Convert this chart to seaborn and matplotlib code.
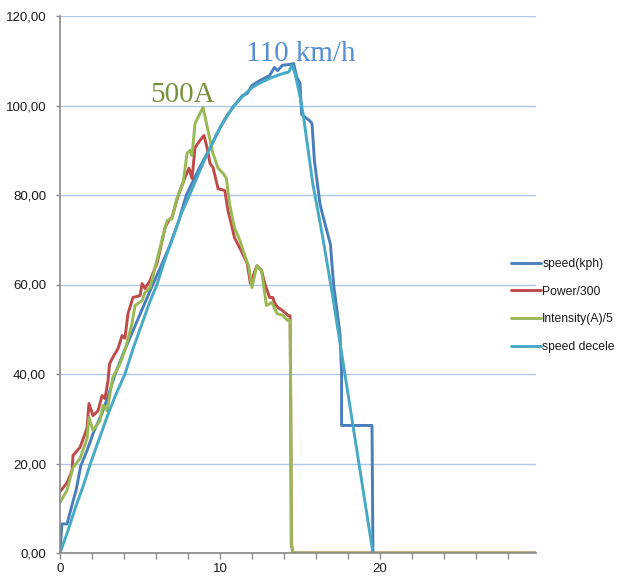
import matplotlib
matplotlib.use("Agg")
import matplotlib.pyplot as plt
import seaborn as sns
import pandas as pd
from matplotlib.ticker import FuncFormatter, MultipleLocator

sns.set_theme(style="white")
plt.rcParams['font.family'] = ['Liberation Sans', 'DejaVu Sans']

# ---- data ----
speed_x = [0.0, 0.12, 0.44, 0.7, 1.0, 1.3, 1.7, 2.1, 2.6, 3.0, 3.45, 4.0, 4.6, 5.2, 5.8,
           6.3, 6.9, 7.4, 7.9, 8.5, 9.0, 9.4, 10.0, 10.5, 10.8, 11.4, 11.7, 12.0, 12.5,
           13.1, 13.4, 13.6, 13.9, 14.4, 14.6, 14.8, 15.0, 15.1, 15.6, 15.75, 15.9,
           16.25, 16.4, 16.9, 17.1, 17.5, 17.6, 17.6, 19.5, 19.56]
speed_y = [0.0, 6.5, 6.5, 10.0, 14.0, 19.5, 23.0, 27.0, 31.0, 35.0, 40.0, 45.0, 50.0, 55.0, 60.0,
           64.0, 69.0, 74.0, 80.0, 84.5, 88.0, 90.6, 95.0, 98.0, 99.6, 102.2, 102.7, 104.5, 105.6,
           106.7, 108.5, 107.8, 109.0, 109.2, 109.4, 106.3, 105.0, 98.0, 96.6, 96.0, 87.7,
           78.0, 75.8, 69.0, 60.0, 49.0, 40.0, 28.5, 28.5, 0.0]

power_x = [0.0, 0.44, 0.75, 0.81, 1.25, 1.56, 1.69, 1.81, 2.06, 2.38, 2.63, 2.81, 3.0, 3.1,
           3.3, 3.63, 3.88, 4.06, 4.25, 4.56, 5.0, 5.13, 5.31, 5.63, 6.06, 6.25, 6.56, 6.8,
           7.0, 7.3, 7.5, 7.94, 8.06, 8.25, 8.44, 8.75, 9.0, 9.19, 9.38, 9.56, 9.88, 10.3,
           10.5, 10.7, 10.9, 11.4, 11.7, 11.9, 12.3, 12.6, 12.8, 13.1, 13.3, 13.4, 13.6,
           13.9, 14.25, 14.38, 14.42, 14.46, 14.56, 29.75]
power_y = [13.7, 15.7, 18.4, 21.8, 23.6, 26.6, 28.0, 33.4, 30.7, 31.8, 35.2, 34.5, 38.5, 42.3,
           43.7, 45.7, 48.6, 48.0, 53.5, 57.1, 57.5, 60.2, 59.1, 60.9, 64.7, 67.6, 72.7, 74.3,
           75.0, 78.8, 81.0, 85.0, 86.0, 83.7, 90.6, 92.2, 93.3, 90.6, 87.0, 86.2, 81.4, 81.0,
           76.5, 73.6, 70.5, 67.0, 64.7, 60.2, 64.2, 63.1, 60.2, 57.1, 57.1, 56.0, 54.9,
           54.2, 53.1, 53.0, 34.0, 2.0, 0.0, 0.0]

intensity_x = [0.0, 0.44, 0.81, 1.25, 1.69, 1.81, 2.06, 2.5, 2.69, 2.94, 3.13, 3.3, 3.75,
               4.06, 4.5, 4.69, 5.13, 5.31, 5.63, 5.94, 6.4, 6.7, 7.0, 7.3, 7.7, 7.94, 8.13,
               8.25, 8.44, 8.69, 8.94, 9.25, 9.56, 9.88, 10.2, 10.4, 10.6, 10.9, 11.25, 11.5,
               11.8, 12.0, 12.3, 12.6, 12.9, 13.25, 13.56, 13.94, 14.2, 14.38, 14.42, 14.46,
               14.56, 29.75]
intensity_y = [11.3, 14.0, 19.1, 21.1, 25.6, 30.3, 27.4, 29.6, 33.0, 31.8, 35.6, 39.2, 42.3,
               45.3, 51.3, 55.3, 56.4, 58.2, 59.3, 63.8, 70.3, 74.3, 74.7, 79.2, 82.8, 89.3, 90.0,
               88.8, 96.0, 97.8, 99.6, 94.4, 89.3, 86.0, 84.8, 83.7, 78.0, 72.7, 69.8, 67.0,
               64.0, 59.3, 64.2, 63.0, 55.3, 56.0, 53.5, 53.1, 52.0, 52.0, 34.0, 2.0,
               0.0, 0.0]

decel_x = [0.0, 0.5, 1.0, 1.5, 1.9, 2.5, 3.0, 3.5, 4.06, 4.6, 5.1, 5.6, 6.06, 6.6, 7.1, 7.6,
           8.1, 8.75, 9.3, 9.8, 10.3, 10.9, 11.4, 12.0, 12.6, 13.2, 13.8, 14.3, 14.5, 14.7,
           15.0, 15.2, 15.8, 16.4, 17.06, 19.56]
decel_y = [0.0, 5.0, 10.5, 15.5, 20.0, 26.0, 31.0, 35.5, 40.0, 46.0, 51.0, 56.0, 60.0, 66.0,
           71.0, 76.0, 80.0, 85.5, 90.0, 93.7, 97.0, 100.0, 102.0, 104.0, 105.2, 106.2, 107.0,
           107.5, 109.0, 107.0, 102.0, 98.0, 82.5, 71.0, 57.0, 0.0]

series_names = ["speed(kph)", "Power/300", "Intensity(A)/5", "speed decele"]
series_colors = ["#4A7EBB", "#BE4B48", "#98B954", "#46AAC5"]
y_ticks = [0, 20, 40, 60, 80, 100, 120]
x_labels = {0: "0", 10: "10", 20: "20"}

# ---- figure ----
fig = plt.figure(figsize=(6.18, 5.76), dpi=100)
ax = fig.add_axes([60/618, 23/576, 476/618, 537/576])

data = [(speed_x, speed_y), (power_x, power_y), (intensity_x, intensity_y), (decel_x, decel_y)]
for (xs, ys), name, col in zip(data, series_names, series_colors):
    df = pd.DataFrame({"x": xs, "y": ys})
    sns.lineplot(data=df, x="x", y="y", sort=False, estimator=None, ax=ax,
                 color=col, linewidth=2.1, label=name)

ax.set_xlim(0, 29.75)
ax.set_ylim(0, 120)
ax.set_yticks(y_ticks)
ax.yaxis.set_major_formatter(FuncFormatter(lambda v, p: f"{v:.2f}".replace(".", ",")))
ax.xaxis.set_major_locator(MultipleLocator(2))
ax.xaxis.set_major_formatter(FuncFormatter(lambda v, p: x_labels.get(int(round(v)), "")))
ax.set_xlabel("")
ax.set_ylabel("")

ax.grid(axis="y", color="#AFC6EA", linewidth=1.0)
ax.set_axisbelow(True)
for s in ["top", "right"]:
    ax.spines[s].set_visible(False)
ax.spines["left"].set_color("#8C8C8C")
ax.spines["bottom"].set_color("#8C8C8C")
ax.tick_params(axis="y", which="major", direction="out", length=3, width=1,
               color="#8C8C8C", labelsize=9.5, labelcolor="#1a1a1a", pad=7, left=True)
ax.tick_params(axis="x", which="major", direction="out", length=4, width=1,
               color="#8C8C8C", labelsize=9.5, labelcolor="#1a1a1a", pad=3, bottom=True)

ax.text(7.66, 100.7, "500A", color="#76923C", fontsize=21, family="Liberation Serif",
        ha="center", va="baseline")
ax.text(15.06, 110.0, "110 km/h", color="#558ED5", fontsize=21, family="Liberation Serif",
        ha="center", va="baseline")

leg = ax.legend(loc="upper left", bbox_to_anchor=(506/618, 1 - 253/576),
                bbox_transform=fig.transFigure, frameon=False, fontsize=8.7,
                handlelength=2.5, handletextpad=0.1, labelspacing=1.3, borderaxespad=0)
for t in leg.get_texts():
    t.set_color("#1a1a1a")

fig.savefig("out.png", dpi=100)
